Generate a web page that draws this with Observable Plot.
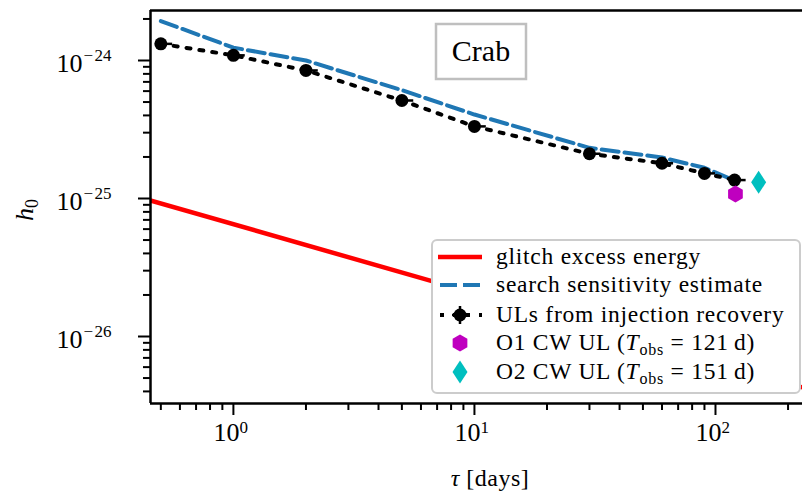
<!DOCTYPE html>
<html><head><meta charset="utf-8">
<script src="https://cdn.jsdelivr.net/npm/d3@7"></script>
<script src="https://cdn.jsdelivr.net/npm/@observablehq/plot@0.6"></script>
<style>
html,body{margin:0;padding:0;background:#fff;}
#chart{position:relative;width:802px;height:493px;overflow:hidden;}
#chart svg{position:absolute;left:0;top:0;}
</style></head><body><div id="chart"></div>
<script>
// ---- data ----
const tau       = [0.5, 1, 2, 5, 10, 30, 60, 90, 120];
const ulH0      = [1.32e-24, 1.09e-24, 8.47e-25, 5.13e-25, 3.33e-25, 2.11e-25, 1.80e-25, 1.52e-25, 1.36e-25];
const ulH0Low   = [1.26e-24, 1.04e-24, 8.10e-25, 4.90e-25, 3.18e-25, 2.02e-25, 1.72e-25, 1.45e-25, 1.30e-25];
const ulH0High  = [1.38e-24, 1.14e-24, 8.85e-25, 5.36e-25, 3.48e-25, 2.20e-25, 1.88e-25, 1.59e-25, 1.42e-25];
const ulTauHigh = [0.56, 1.12, 2.25, 5.6, 11.2, 33.5, 67, 100, 134];
const sensH0    = [1.93e-24, 1.24e-24, 1.0e-24, 6.1e-25, 4.06e-25, 2.33e-25, 1.98e-25, 1.67e-25, 1.35e-25];
const glitchTau = [0.4, 250];
const glitchH0  = [1.03e-25, 4.1e-27];
const o1Tau = [121], o1H0 = [1.08e-25];
const o2Tau = [151], o2H0 = [1.31e-25];
const xMajor = [1, 10, 100], xExp = ["0", "1", "2"];
const yMajor = [1e-24, 1e-25, 1e-26], yExp = ["\u2212\u200A24", "\u2212\u200A25", "\u2212\u200A26"];
const xMinor = [0.5,0.6,0.7,0.8,0.9, 2,3,4,5,6,7,8,9, 20,30,40,50,60,70,80,90, 200];
const yMinor = [4e-27,5e-27,6e-27,7e-27,8e-27,9e-27,
                2e-26,3e-26,4e-26,5e-26,6e-26,7e-26,8e-26,9e-26,
                2e-25,3e-25,4e-25,5e-25,6e-25,7e-25,8e-25,9e-25, 2e-24];

const ul = tau.map((t,i)=>({tau:t, h0:ulH0[i], lo:ulH0Low[i], hi:ulH0High[i], tauHi:ulTauHigh[i]}));
const sens = tau.map((t,i)=>({tau:t, h0:sensH0[i]}));
const glitch = glitchTau.map((t,i)=>({tau:t, h0:glitchH0[i]}));
const o1 = o1Tau.map((t,i)=>({tau:t, h0:o1H0[i]}));
const o2 = o2Tau.map((t,i)=>({tau:t, h0:o2H0[i]}));

const hexagon = {draw(ctx, size){const r=Math.sqrt(size/Math.PI);
  for(let i=0;i<6;i++){const a=Math.PI/3*i-Math.PI/2;const px=r*Math.cos(a),py=r*Math.sin(a);
    if(i) ctx.lineTo(px,py); else ctx.moveTo(px,py);} ctx.closePath();}};
const thinDiamond = {draw(ctx, size){const r=Math.sqrt(size/Math.PI);
  ctx.moveTo(0,-1.44*r);ctx.lineTo(0.94*r,0);ctx.lineTo(0,1.44*r);ctx.lineTo(-0.94*r,0);ctx.closePath();}};

const X0 = 0.453, X1 = 229.6, Y0 = 3.27e-27, Y1 = 2.303e-24;
const FONT = "'Liberation Serif', 'DejaVu Serif', serif";

const plot = Plot.plot({
  width: 802, height: 493,
  marginLeft: 150, marginRight: 0, marginTop: 10, marginBottom: 90,
  x: {type: "log", domain: [X0, X1]},
  y: {type: "log", domain: [Y0, Y1]},
  style: {fontFamily: FONT, background: "transparent", color: "black", overflow: "visible"},
  marks: [
    Plot.line(glitch, {x: "tau", y: "h0", stroke: "#ff0000", strokeWidth: 4.5, clip: true}),
    Plot.line(sens, {x: "tau", y: "h0", stroke: "#1f77b4", strokeWidth: 4, strokeDasharray: "17,6"}),
    Plot.line(ul, {x: "tau", y: "h0", stroke: "black", strokeWidth: 4, strokeDasharray: "4,9"}),
    Plot.ruleX(ul, {x: "tau", y1: "lo", y2: "hi", stroke: "black", strokeWidth: 2.5}),
    Plot.ruleY(ul, {y: "h0", x1: "tau", x2: "tauHi", stroke: "black", strokeWidth: 2.5}),
    Plot.dot(ul, {x: "tau", y: "h0", r: 6.5, fill: "black"}),
    Plot.dot(o1, {x: "tau", y: "h0", r: 8.5, symbol: hexagon, fill: "#bf00bf"}),
    Plot.dot(o2, {x: "tau", y: "h0", r: 8, symbol: thinDiamond, fill: "#00bfbf"}),
    Plot.axisX({ticks: xMinor, tickSize: 7, strokeWidth: 2, tickFormat: () => "", label: null}),
    Plot.axisX({ticks: xMajor, tickSize: 12, strokeWidth: 2, tickFormat: () => "", label: null}),
    Plot.axisY({ticks: yMinor, tickSize: 7, strokeWidth: 2, tickFormat: () => "", label: null}),
    Plot.axisY({ticks: yMajor, tickSize: 12, strokeWidth: 2, tickFormat: () => "", label: null}),
    Plot.text(xMajor, {x: d => d, frameAnchor: "bottom", text: () => "10", dx: -7, dy: 37, fontSize: 26, letterSpacing: 1}),
    Plot.text(xMajor, {x: d => d, frameAnchor: "bottom", text: (d,i) => xExp[i], textAnchor: "start", dx: 6, dy: 29, fontSize: 17}),
    Plot.text(yMajor, {y: d => d, frameAnchor: "left", text: () => "10", textAnchor: "end", dx: -68, dy: 3, fontSize: 26, letterSpacing: 1}),
    Plot.text(yMajor, {y: d => d, frameAnchor: "left", text: (d,i) => yExp[i], textAnchor: "start", dx: -67, dy: -5, fontSize: 17, letterSpacing: 1.5}),
    Plot.ruleX([X0], {stroke: "black", strokeWidth: 2.5}),
    Plot.ruleY([Y0], {stroke: "black", strokeWidth: 2.5}),
    Plot.ruleY([Y1], {stroke: "black", strokeWidth: 2.5})
  ]
});
document.getElementById("chart").appendChild(plot);

// ---- overlay: labels, annotation box, legend ----
const svg = d3.select("#chart").append("svg").attr("width", 802).attr("height", 493)
  .style("font-family", FONT);

// axis labels
svg.append("text").attr("x", 490).attr("y", 486).attr("text-anchor", "middle")
  .attr("font-size", 24).attr("letter-spacing", 0.5).html('<tspan font-style="italic">τ</tspan> [days]');
const yl = svg.append("text").attr("transform", "translate(33,210) rotate(-90)")
  .attr("text-anchor", "middle").attr("font-size", 26);
yl.append("tspan").attr("font-style", "italic").text("h");
yl.append("tspan").attr("font-size", 18).attr("dy", 5).text("0");

// "Crab" box
svg.append("rect").attr("x", 436).attr("y", 24).attr("width", 90).attr("height", 55)
  .attr("fill", "white").attr("stroke", "#bfbfbf").attr("stroke-width", 2.5);
svg.append("text").attr("x", 481).attr("y", 61).attr("text-anchor", "middle")
  .attr("font-size", 30).text("Crab");

// legend
svg.append("rect").attr("x", 432).attr("y", 240).attr("width", 368).attr("height", 153)
  .attr("rx", 5).attr("fill", "white").attr("stroke", "#cccccc").attr("stroke-width", 2);
const rows = [257, 285, 315, 343, 372];
svg.append("line").attr("x1", 438).attr("x2", 482).attr("y1", rows[0]).attr("y2", rows[0])
  .attr("stroke", "#ff0000").attr("stroke-width", 4.5);
svg.append("line").attr("x1", 440).attr("x2", 482).attr("y1", rows[1]).attr("y2", rows[1])
  .attr("stroke", "#1f77b4").attr("stroke-width", 4).attr("stroke-dasharray", "17,6");
svg.append("line").attr("x1", 440).attr("x2", 482).attr("y1", rows[2]).attr("y2", rows[2])
  .attr("stroke", "black").attr("stroke-width", 4).attr("stroke-dasharray", "4,9");
svg.append("line").attr("x1", 452).attr("x2", 470).attr("y1", rows[2]).attr("y2", rows[2])
  .attr("stroke", "black").attr("stroke-width", 2.5);
svg.append("line").attr("x1", 460).attr("x2", 460).attr("y1", rows[2]-9).attr("y2", rows[2]+9)
  .attr("stroke", "black").attr("stroke-width", 2.5);
svg.append("circle").attr("cx", 460).attr("cy", rows[2]).attr("r", 6.5).attr("fill", "black");
svg.append("path").attr("transform", `translate(460,${rows[3]})`)
  .attr("d", d3.symbol(hexagon, 8.5*8.5*Math.PI)()).attr("fill", "#bf00bf");
svg.append("path").attr("transform", `translate(460,${rows[4]})`)
  .attr("d", d3.symbol(thinDiamond, 8*8*Math.PI)()).attr("fill", "#00bfbf");

const labels = [
  'glitch excess energy',
  'search sensitivity estimate',
  'ULs from injection recovery',
  'O1 CW UL (<tspan font-style="italic">T</tspan><tspan font-size="16" dy="5">obs</tspan><tspan dy="-5"> = 121\u2009d)</tspan>',
  'O2 CW UL (<tspan font-style="italic">T</tspan><tspan font-size="16" dy="5">obs</tspan><tspan dy="-5"> = 151\u2009d)</tspan>'
];
labels.forEach((s, i) => {
  svg.append("text").attr("x", 496).attr("y", rows[i] + 7).attr("font-size", 23.5)
    .attr("letter-spacing", 0.75).html(s);
});
</script></body></html>
